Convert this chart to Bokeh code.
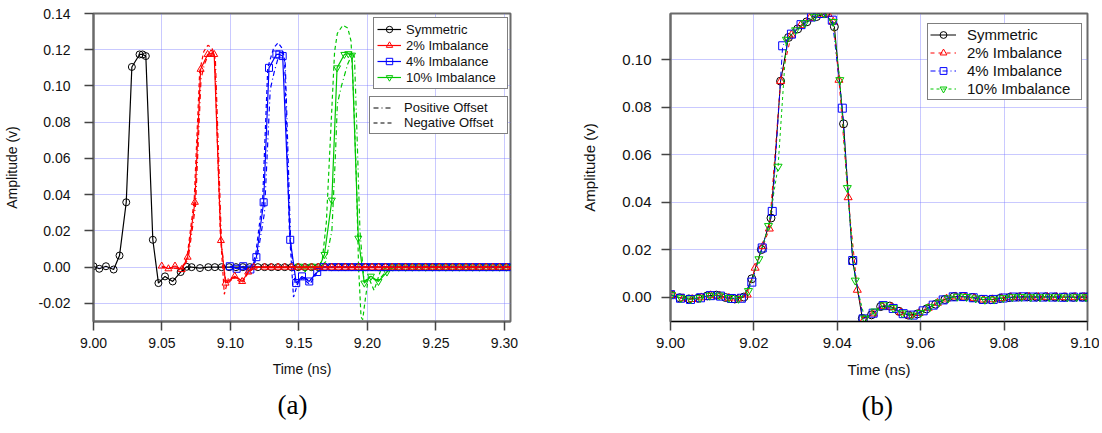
from bokeh.plotting import figure
from bokeh.layouts import row
from bokeh.models import Legend, LegendItem, FixedTicker, PrintfTickFormatter, Range1d, Title
from bokeh.embed import file_html
from bokeh.resources import INLINE

# ---------------- (a) data: shifted pulses ----------------
A_XTICKS = [9.00, 9.05, 9.10, 9.15, 9.20, 9.25, 9.30]
A_YTICKS = [-0.02, 0.00, 0.02, 0.04, 0.06, 0.08, 0.10, 0.12, 0.14]

TAIL_T = [9.1200, 9.1249, 9.1298, 9.1347, 9.1396, 9.1445, 9.1494, 9.1543, 9.1592, 9.1641,
          9.1690, 9.1739, 9.1788, 9.1837, 9.1886, 9.1935, 9.1984, 9.2033, 9.2082, 9.2131,
          9.2180, 9.2229, 9.2278, 9.2327, 9.2376, 9.2425, 9.2474, 9.2523, 9.2572, 9.2621,
          9.2670, 9.2719, 9.2768, 9.2817, 9.2866, 9.2915, 9.2964, 9.3013, 9.3062]
TAIL_V = [0.0, 0.0, 0.0, 0.0, 0.0, 0.0, 0.0, 0.0, 0.0, 0.0,
          0.0, 0.0, 0.0, 0.0, 0.0, 0.0, 0.0, 0.0, 0.0, 0.0,
          0.0, 0.0, 0.0, 0.0, 0.0, 0.0, 0.0, 0.0, 0.0, 0.0,
          0.0, 0.0, 0.0, 0.0, 0.0, 0.0, 0.0, 0.0, 0.0]

SYM_T = [9.0000, 9.0042, 9.0091, 9.0147, 9.0190, 9.0239, 9.0280, 9.0336, 9.0358, 9.0382,
         9.0433, 9.0474, 9.0522, 9.0578, 9.0636, 9.0680, 9.0716, 9.0777, 9.0838, 9.0886,
         9.0935, 9.0990, 9.1040, 9.1090, 9.1140]
SYM_V = [0.0005, -0.0009, 0.0005, -0.0013, 0.0064, 0.0358, 0.1105, 0.1174, 0.1174, 0.1165,
         0.0151, -0.0088, -0.0051, -0.0079, -0.0027, 0.0002, 0.0000, -0.0005, 0.0000, 0.0000,
         0.0000, 0.0000, 0.0000, 0.0000, 0.0000]

R2_T = [9.0498, 9.0547, 9.0595, 9.0644, 9.0687, 9.0740, 9.0782, 9.0833, 9.0858, 9.0881,
        9.0930, 9.0964, 9.1031, 9.1085, 9.1129, 9.1170]
R2_V = [0.0006, -0.0009, 0.0006, -0.0013, 0.0055, 0.0358, 0.1092, 0.1174, 0.1178, 0.1174,
        0.0147, -0.0088, -0.0050, -0.0079, -0.0027, 0.0000]
R2P_T = [9.050, 9.064, 9.069, 9.0745, 9.0785, 9.081, 9.084, 9.0875, 9.089, 9.0935, 9.0968,
         9.1031, 9.1085, 9.1129, 9.118, 9.305]
R2P_V = [0.0, -0.001, 0.004, 0.034, 0.104, 0.112, 0.1175, 0.1185, 0.114, 0.012, -0.010,
         -0.005, -0.0075, -0.0025, 0.0, 0.0]
R2N_T = [9.050, 9.064, 9.0682, 9.0735, 9.0775, 9.0805, 9.0835, 9.0865, 9.0885, 9.0925, 9.0955,
         9.0985, 9.1031, 9.1085, 9.1129, 9.118, 9.305]
R2N_V = [0.0, -0.001, 0.005, 0.037, 0.108, 0.119, 0.1225, 0.121, 0.116, 0.020, -0.015,
         -0.006, -0.006, -0.009, -0.003, 0.0, 0.0]

B4_T = [9.0995, 9.1045, 9.1093, 9.1145, 9.1189, 9.1242, 9.1281, 9.1335, 9.1357, 9.1381,
        9.1436, 9.1480, 9.1522, 9.1575, 9.1633, 9.1680]
B4_V = [0.0005, -0.0009, 0.0005, -0.0013, 0.0055, 0.0358, 0.1100, 0.1174, 0.1174, 0.1165,
        0.0151, -0.0088, -0.0051, -0.0079, -0.0027, 0.0000]
B4P_T = [9.100, 9.114, 9.1192, 9.1248, 9.129, 9.132, 9.135, 9.1385, 9.140, 9.144, 9.1475,
         9.1522, 9.1575, 9.1633, 9.168, 9.305]
B4P_V = [0.0, -0.001, 0.004, 0.030, 0.098, 0.108, 0.116, 0.1185, 0.112, 0.012, -0.011,
         -0.005, -0.0075, -0.0025, 0.0, 0.0]
B4N_T = [9.100, 9.114, 9.1182, 9.1235, 9.1272, 9.1315, 9.1347, 9.1375, 9.1395, 9.143, 9.146,
         9.1495, 9.1525, 9.1578, 9.1633, 9.168, 9.305]
B4N_V = [0.0, -0.001, 0.006, 0.038, 0.110, 0.121, 0.1238, 0.121, 0.114, 0.020, -0.0165,
         -0.008, -0.006, -0.0095, -0.003, 0.0, 0.0]

G10_T = [9.1500, 9.1545, 9.1595, 9.1645, 9.1686, 9.1740, 9.1778, 9.1831, 9.1860, 9.1887,
         9.1933, 9.1977, 9.2025, 9.2080, 9.2142, 9.2185]
G10_V = [0.0005, -0.0005, 0.0005, -0.0005, 0.0070, 0.0370, 0.1100, 0.1174, 0.1178, 0.1170,
         0.0160, -0.0088, -0.0050, -0.0079, -0.0027, 0.0000]
G10P_T = [9.150, 9.165, 9.1695, 9.174, 9.1765, 9.178, 9.181, 9.1855, 9.189, 9.1905, 9.1925,
          9.1945, 9.1975, 9.202, 9.207, 9.214, 9.220, 9.305]
G10P_V = [0.0, 0.0, 0.003, 0.020, 0.060, 0.090, 0.100, 0.112, 0.118, 0.116, 0.070,
          0.020, -0.008, -0.005, -0.008, -0.002, 0.0, 0.0]
G10N_T = [9.150, 9.164, 9.167, 9.170, 9.1735, 9.176, 9.178, 9.182, 9.1856, 9.188, 9.190,
          9.192, 9.1935, 9.1953, 9.1965, 9.198, 9.2007, 9.2048, 9.2096, 9.215, 9.305]
G10N_V = [0.0, 0.0, 0.004, 0.025, 0.080, 0.119, 0.129, 0.1335, 0.132, 0.1248, 0.0917,
          0.046, 0.0, -0.0275, -0.029, -0.020, -0.0055, -0.0128, -0.0018, 0.0, 0.0]

# ---------------- (b) data: aligned pulses ----------------
B_XTICKS = [9.00, 9.02, 9.04, 9.06, 9.08, 9.10]
B_YTICKS = [0.00, 0.02, 0.04, 0.06, 0.08, 0.10]

BS_T = [9.0000, 9.0022, 9.0044, 9.0066, 9.0088, 9.0110, 9.0132, 9.0154, 9.0176, 9.0195,
        9.0218, 9.0241, 9.0264, 9.0283, 9.0305, 9.0327, 9.0350, 9.0372, 9.0393, 9.0415,
        9.0437, 9.0460, 9.0482, 9.0504, 9.0526, 9.0548, 9.0570, 9.0592, 9.0614, 9.0636,
        9.0658, 9.0680, 9.0702, 9.0724, 9.0746, 9.0768, 9.0790, 9.0812, 9.0834, 9.0856,
        9.0878, 9.0900, 9.0922, 9.0944, 9.0966, 9.0988, 9.1000]
BS_V = [0.0010, -0.0003, -0.0008, -0.0005, 0.0005, 0.0008, -0.0002, -0.0008, 0.0000, 0.0077,
        0.0200, 0.0333, 0.0910, 0.1094, 0.1130, 0.1160, 0.1182, 0.1195, 0.1139, 0.0730,
        0.0152, -0.0090, -0.0075, -0.0040, -0.0038, -0.0060, -0.0076, -0.0071, -0.0050, -0.0030,
        -0.0010, 0.0002, 0.0002, -0.0002, -0.0010, -0.0011, -0.0006, -0.0002, 0.0000, 0.0001,
        0.0000, 0.0001, 0.0000, 0.0000, -0.0001, 0.0000, 0.0000]

B2_T = [9.0008, 9.0030, 9.0052, 9.0074, 9.0096, 9.0118, 9.0140, 9.0162, 9.0184, 9.0203,
        9.0222, 9.0237, 9.0264, 9.0290, 9.0312, 9.0334, 9.0356, 9.0378, 9.0390, 9.0404,
        9.0426, 9.0448, 9.0464, 9.0486, 9.0508, 9.0530, 9.0552, 9.0574, 9.0596, 9.0618,
        9.0640, 9.0662, 9.0684, 9.0706, 9.0728, 9.0750, 9.0772, 9.0794, 9.0816, 9.0838,
        9.0860, 9.0882, 9.0904, 9.0926, 9.0948, 9.0970, 9.0992]
B2_V = [0.0008, -0.0006, -0.0009, -0.0002, 0.0007, 0.0006, -0.0004, -0.0007, 0.0010, 0.0123,
        0.0215, 0.0288, 0.0910, 0.1105, 0.1145, 0.1175, 0.1190, 0.1192, 0.1160, 0.0915,
        0.0420, 0.0030, -0.0095, -0.0070, -0.0038, -0.0043, -0.0065, -0.0078, -0.0068, -0.0046,
        -0.0025, -0.0007, 0.0002, 0.0001, -0.0004, -0.0011, -0.0010, -0.0005, -0.0001, 0.0000,
        0.0001, 0.0000, 0.0000, 0.0000, -0.0001, 0.0000, 0.0000]

B4B_T = [9.0000, 9.0024, 9.0048, 9.0072, 9.0096, 9.0120, 9.0146, 9.0170, 9.0195, 9.0220,
         9.0244, 9.0269, 9.0290, 9.0313, 9.0338, 9.0362, 9.0388, 9.0412, 9.0437, 9.0462,
         9.0486, 9.0510, 9.0534, 9.0558, 9.0582, 9.0606, 9.0630, 9.0654, 9.0678, 9.0702,
         9.0726, 9.0750, 9.0774, 9.0798, 9.0822, 9.0846, 9.0870, 9.0894, 9.0918, 9.0942,
         9.0966, 9.0990]
B4B_V = [0.0010, -0.0005, -0.0010, -0.0003, 0.0006, 0.0004, -0.0006, -0.0005, 0.0063, 0.0207,
         0.0361, 0.1059, 0.1108, 0.1148, 0.1180, 0.1195, 0.1167, 0.0796, 0.0154, -0.0092,
         -0.0068, -0.0036, -0.0048, -0.0070, -0.0076, -0.0058, -0.0034, -0.0012, 0.0001, 0.0002,
         -0.0003, -0.0010, -0.0010, -0.0004, 0.0000, 0.0001, 0.0000, 0.0000, 0.0000, -0.0001,
         0.0000, 0.0000]

B10_T = [9.0002, 9.0025, 9.0048, 9.0071, 9.0094, 9.0117, 9.0140, 9.0163, 9.0187, 9.0212,
         9.0235, 9.0258, 9.0278, 9.0300, 9.0322, 9.0345, 9.0368, 9.0390, 9.0406, 9.0424,
         9.0443, 9.0466, 9.0490, 9.0512, 9.0534, 9.0556, 9.0578, 9.0600, 9.0622, 9.0644,
         9.0666, 9.0688, 9.0710, 9.0732, 9.0754, 9.0776, 9.0798, 9.0820, 9.0842, 9.0864,
         9.0886, 9.0908, 9.0930, 9.0952, 9.0974, 9.0996]
B10_V = [0.0010, -0.0004, -0.0009, -0.0004, 0.0006, 0.0007, -0.0003, -0.0007, 0.0026, 0.0160,
         0.0300, 0.0550, 0.1085, 0.1125, 0.1155, 0.1182, 0.1195, 0.1160, 0.0915, 0.0460,
         0.0070, -0.0090, -0.0060, -0.0034, -0.0046, -0.0068, -0.0077, -0.0066, -0.0042, -0.0022,
         -0.0005, 0.0002, 0.0001, -0.0005, -0.0011, -0.0010, -0.0004, 0.0000, 0.0001, 0.0000,
         0.0000, 0.0000, 0.0000, -0.0001, 0.0000, 0.0000]

LABELS = ["Symmetric", "2% Imbalance", "4% Imbalance", "10% Imbalance"]
OFFSET_LABELS = ["Positive Offset", "Negative Offset"]

FONT = "Liberation Sans"
SERIF = "Liberation Serif"
BLACK, RED, BLUE, GREEN = "#000000", "#ff0000", "#0000ff", "#00c800"
FRAME = "#6a6a6a"
GRID = "#7878ff"


def with_tail(t, v):
    last = t[-1]
    tt = list(t) + [x for x in TAIL_T if x > last + 0.003]
    vv = list(v) + [y for x, y in zip(TAIL_T, TAIL_V) if x > last + 0.003]
    return tt, vv


def style(p, xticks, yticks, fs, ytick_standoff, ylabel_standoff):
    p.outline_line_color = FRAME
    p.outline_line_width = 2
    p.background_fill_color = "white"
    p.border_fill_color = "white"
    for ax in (p.xaxis[0], p.yaxis[0]):
        ax.axis_line_color = FRAME
        ax.axis_line_width = 2
        ax.major_tick_out = 9
        ax.major_tick_in = 0
        ax.major_tick_line_color = "#444444"
        ax.major_tick_line_width = 1.5
        ax.minor_tick_line_color = None
        ax.major_label_text_font = FONT
        ax.major_label_text_font_size = fs
        ax.major_label_text_color = "#111111"
        ax.axis_label_text_font = FONT
        ax.axis_label_text_font_size = fs
        ax.axis_label_text_font_style = "normal"
        ax.axis_label_text_color = "#111111"
        ax.formatter = PrintfTickFormatter(format="%.2f")
    p.xaxis[0].ticker = FixedTicker(ticks=xticks)
    p.yaxis[0].ticker = FixedTicker(ticks=yticks)
    p.xaxis[0].major_label_standoff = 7
    p.yaxis[0].major_label_standoff = ytick_standoff
    p.xaxis[0].axis_label_standoff = 10
    p.yaxis[0].axis_label_standoff = ylabel_standoff
    p.xaxis[0].axis_label = "Time (ns)"
    p.yaxis[0].axis_label = "Amplitude (v)"
    for g in p.grid:
        g.grid_line_color = GRID
        g.grid_line_dash = "1 1"
        g.grid_line_width = 1
        g.grid_line_alpha = 0.8


# ---------------- figure (a) ----------------
pa = figure(width=578, height=432, x_range=Range1d(9.0, 9.3044), y_range=Range1d(-0.03, 0.14),
            min_border_left=92, min_border_right=68, min_border_top=12, min_border_bottom=111,
            output_backend="svg", toolbar_location=None, title=None)
style(pa, A_XTICKS, A_YTICKS, "14px", 14, 16)

MS_A = 7
st, sv = with_tail(SYM_T, SYM_V)
la0 = pa.line(st, sv, line_color=BLACK, line_width=1.2)
sa0 = pa.scatter(st, sv, marker="circle", size=MS_A, line_color=BLACK, fill_color=None, line_width=1)

handles = []
for (tt, vv, pt, pv, nt, nv, col, mk) in [
        (G10_T, G10_V, G10P_T, G10P_V, G10N_T, G10N_V, GREEN, "inverted_triangle"),
        (B4_T, B4_V, B4P_T, B4P_V, B4N_T, B4N_V, BLUE, "square"),
        (R2_T, R2_V, R2P_T, R2P_V, R2N_T, R2N_V, RED, "triangle")]:
    pa.line(pt, pv, line_color=col, line_width=1.2, line_dash="5 3 1 3")
    pa.line(nt, nv, line_color=col, line_width=1.2, line_dash="4 3")
    t2, v2 = with_tail(tt, vv)
    l = pa.line(t2, v2, line_color=col, line_width=1.2)
    s = pa.scatter(t2, v2, marker=mk, size=MS_A, line_color=col, fill_color=None, line_width=1)
    handles.append((l, s))

gl, gs = handles[0]
bl, bs = handles[1]
rl, rs = handles[2]

# legend-only samples for the offset styles (placed outside the visible x range)
lp = pa.line([8.0, 8.1], [0.0, 0.0], line_color=BLACK, line_width=1.2, line_dash="5 3 1 3")
ln = pa.line([8.0, 8.1], [0.0, 0.0], line_color=BLACK, line_width=1.2, line_dash="4 3")

leg1 = Legend(items=[LegendItem(label=LABELS[0], renderers=[la0, sa0]),
                     LegendItem(label=LABELS[1], renderers=[rl, rs]),
                     LegendItem(label=LABELS[2], renderers=[bl, bs]),
                     LegendItem(label=LABELS[3], renderers=[gl, gs])],
              location=(280, 232))
leg2 = Legend(items=[LegendItem(label=OFFSET_LABELS[0], renderers=[lp]),
                     LegendItem(label=OFFSET_LABELS[1], renderers=[ln])],
              location=(276, 187))
for lg, gw, std, lw, lh in [(leg1, 24, 5, 98, 16), (leg2, 20, 11, 100, 15)]:
    lg.label_text_font = FONT
    lg.label_text_font_size = "13px"
    lg.label_text_color = "#111111"
    lg.glyph_width = gw
    lg.glyph_height = lh
    lg.label_height = lh
    lg.label_width = lw
    lg.label_standoff = std
    lg.padding = 3
    lg.spacing = 0
    lg.margin = 0
    lg.border_line_color = "black"
    lg.border_line_width = 1.5
    lg.background_fill_color = "white"
    lg.background_fill_alpha = 1
    pa.add_layout(lg, "center")

pa.add_layout(Title(text="(a)", align="left", text_font=SERIF, text_font_size="27px",
                    text_font_style="normal", text_color="black", standoff=16, offset=184), "below")

# ---------------- figure (b) ----------------
pb = figure(width=521, height=432, x_range=Range1d(9.0, 9.10), y_range=Range1d(-0.0103, 0.1195),
            min_border_left=89, min_border_right=12, min_border_top=13, min_border_bottom=110,
            output_backend="svg", toolbar_location=None, title=None)
style(pb, B_XTICKS, B_YTICKS, "15px", 10, 21)
pb.xaxis[0].axis_line_color = "black"
pb.xaxis[0].axis_line_width = 1

MS_B = 8
items_b = []
for t, v, col, mk, dash, lab in [
        (BS_T, BS_V, BLACK, "circle", "solid", LABELS[0]),
        (B2_T, B2_V, RED, "triangle", "4 4", LABELS[1]),
        (B4B_T, B4B_V, BLUE, "square", "5 3 1 3", LABELS[2]),
        (B10_T, B10_V, GREEN, "inverted_triangle", "3 3", LABELS[3])]:
    l = pb.line(t, v, line_color=col, line_width=1, line_dash=dash)
    s = pb.scatter(t, v, marker=mk, size=MS_B, line_color=col, fill_color=None, line_width=1)
    items_b.append(LegendItem(label=lab, renderers=[l, s]))

legb = Legend(items=items_b, location=(257, 221))
legb.label_text_font = FONT
legb.label_text_font_size = "15px"
legb.label_text_color = "#111111"
legb.glyph_width = 26
legb.glyph_height = 17
legb.label_height = 17
legb.label_width = 112
legb.label_standoff = 11
legb.padding = 2
legb.spacing = 1
legb.margin = 0
legb.border_line_color = "black"
legb.border_line_width = 1.5
legb.background_fill_color = "white"
legb.background_fill_alpha = 1
pb.add_layout(legb, "center")

pb.add_layout(Title(text="(b)", align="left", text_font=SERIF, text_font_size="27px",
                    text_font_style="normal", text_color="black", standoff=16, offset=191), "below")

layout = row(pa, pb)
open("out.html", "w").write(file_html(layout, INLINE))
